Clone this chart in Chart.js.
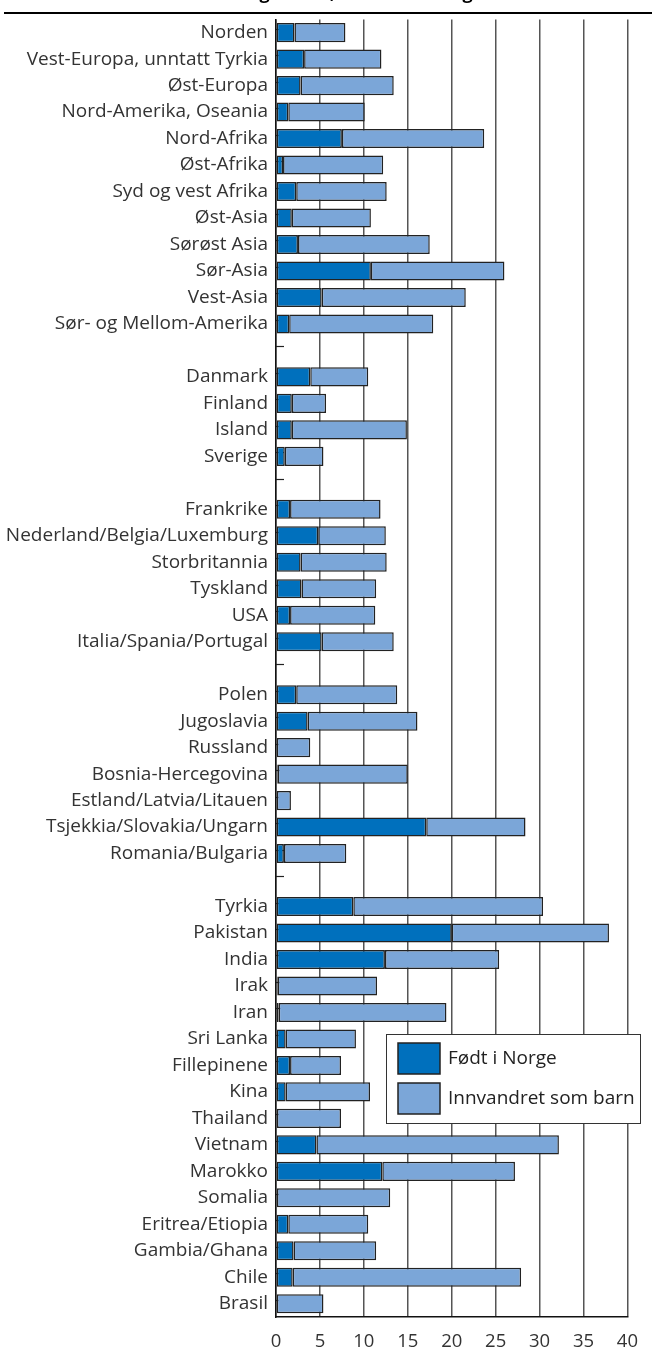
<!DOCTYPE html>
<html lang="no">
<head>
<meta charset="UTF-8">
<title>Landbakgrunn</title>
<script src="https://cdn.jsdelivr.net/npm/chart.js"></script>
<style>
  body { margin: 0; padding: 0; background: #ffffff; }
  #wrap { position: relative; width: 652px; height: 1351px; }
</style>
</head>
<body>
<div id="wrap"><canvas id="chart"></canvas></div>
<script>
// categories, "" = empty spacer row
const labels = [
  "Norden", "Vest-Europa, unntatt Tyrkia", "Øst-Europa", "Nord-Amerika, Oseania",
  "Nord-Afrika", "Øst-Afrika", "Syd og vest Afrika", "Øst-Asia", "Sørøst Asia",
  "Sør-Asia", "Vest-Asia", "Sør- og Mellom-Amerika", "",
  "Danmark", "Finland", "Island", "Sverige", "",
  "Frankrike", "Nederland/Belgia/Luxemburg", "Storbritannia", "Tyskland", "USA",
  "Italia/Spania/Portugal", "",
  "Polen", "Jugoslavia", "Russland", "Bosnia-Hercegovina", "Estland/Latvia/Litauen",
  "Tsjekkia/Slovakia/Ungarn", "Romania/Bulgaria", "",
  "Tyrkia", "Pakistan", "India", "Irak", "Iran", "Sri Lanka", "Fillepinene", "Kina",
  "Thailand", "Vietnam", "Marokko", "Somalia", "Eritrea/Etiopia", "Gambia/Ghana",
  "Chile", "Brasil"
];

const fodtINorge = [
  2.1, 3.2, 2.8, 1.4, 7.5, 0.8, 2.3, 1.8, 2.5, 10.8, 5.2, 1.5, null,
  3.9, 1.8, 1.8, 1.0, null,
  1.6, 4.8, 2.8, 2.9, 1.6, 5.2, null,
  2.3, 3.6, 0, 0.2, 0, 17.1, 0.9, null,
  8.8, 20.0, 12.4, 0.2, 0.3, 1.1, 1.6, 1.1, 0.1, 4.6, 12.1, 0.1, 1.4, 2.0, 1.9, 0
];

const innvandretSomBarn = [
  5.8, 8.8, 10.6, 8.7, 16.2, 11.4, 10.3, 9.0, 15.0, 15.2, 16.4, 16.4, null,
  6.6, 3.9, 13.1, 4.4, null,
  10.3, 7.7, 9.8, 8.5, 9.7, 8.2, null,
  11.5, 12.5, 3.9, 14.8, 1.7, 11.3, 7.1, null,
  21.6, 17.9, 13.0, 11.3, 19.1, 8.0, 5.8, 9.6, 7.3, 27.6, 15.1, 12.9, 9.1, 9.4, 26.0, 5.4
];

const xTicks = [0, 5, 10, 15, 20, 25, 30, 35, 40];

const darkBlue = "#0070bd";
const lightBlue = "#7ba6d8";
const labelFont = { family: "'Open Sans', sans-serif", size: 19 };

// title (mostly cut off at top) + rule line
const topDecor = {
  id: "topDecor",
  afterDraw(chart) {
    const ctx = chart.ctx;
    ctx.save();
    ctx.fillStyle = "#000";
    ctx.font = "bold 18px 'Open Sans', sans-serif";
    ctx.textAlign = "center";
    ctx.textBaseline = "alphabetic";
    ctx.fillText("Studenter og elever, etter landbakgrunn", 335, -1);
    ctx.fillRect(4, 12, 648, 2);
    ctx.restore();
  }
};

// small inward ticks on the y axis
const yTicks = {
  id: "yTicks",
  beforeDatasetsDraw(chart) {
    const ctx = chart.ctx;
    const y = chart.scales.y;
    const left = chart.chartArea.left;
    ctx.save();
    ctx.strokeStyle = "#222";
    ctx.lineWidth = 1.2;
    labels.forEach((l, i) => {
      const py = Math.round(y.getPixelForValue(i)) - 3.5;
      ctx.beginPath();
      ctx.moveTo(left, py);
      ctx.lineTo(left + 8, py);
      ctx.stroke();
    });
    ctx.restore();
  }
};

// boxed legend inside the plot
const boxLegend = {
  id: "boxLegend",
  afterDraw(chart) {
    const ctx = chart.ctx;
    const x0 = 386, y0 = 1034, w = 254, h = 89;
    ctx.save();
    ctx.fillStyle = "#fff";
    ctx.fillRect(x0, y0, w, h);
    ctx.strokeStyle = "#333";
    ctx.lineWidth = 1;
    ctx.strokeRect(x0 + 0.5, y0 + 0.5, w, h);
    chart.data.datasets.forEach((ds, i) => {
      const sy = y0 + 9 + i * 40;
      ctx.fillStyle = ds.backgroundColor;
      ctx.fillRect(398, sy, 42, 31);
      ctx.strokeStyle = "#222";
      ctx.lineWidth = 1.5;
      ctx.strokeRect(398, sy, 42, 31);
      ctx.fillStyle = "#222";
      ctx.font = "19px 'Open Sans', sans-serif";
      ctx.textAlign = "left";
      ctx.textBaseline = "middle";
      ctx.fillText(ds.label, 448, sy + 16);
    });
    ctx.restore();
  }
};

const ctx = document.getElementById("chart").getContext("2d");
new Chart(ctx, {
  type: "bar",
  data: {
    labels: labels,
    datasets: [
      {
        label: "Født i Norge",
        data: fodtINorge,
        backgroundColor: darkBlue,
        borderColor: "#222",
        borderWidth: 1.5,
        borderSkipped: false
      },
      {
        label: "Innvandret som barn",
        data: innvandretSomBarn,
        backgroundColor: lightBlue,
        borderColor: "#222",
        borderWidth: 1.5,
        borderSkipped: false
      }
    ]
  },
  options: {
    indexAxis: "y",
    responsive: true,
    maintainAspectRatio: false,
    animation: false,
    layout: { padding: { left: 0, right: 19, top: 18, bottom: 0 } },
    datasets: { bar: { barPercentage: 0.72, categoryPercentage: 1.0 } },
    plugins: {
      legend: { display: false },
      tooltip: { enabled: false }
    },
    scales: {
      x: {
        stacked: true,
        min: 0,
        max: 40,
        afterBuildTicks: s => { s.ticks = xTicks.map(v => ({ value: v })); },
        afterFit: s => { s.height = 34; },
        grid: { color: "#555", lineWidth: 1.5, drawTicks: false },
        border: { display: true, color: "#111", width: 1.5 },
        ticks: { color: "#333", font: { family: "'Open Sans', sans-serif", size: 18.5 }, padding: 14 }
      },
      y: {
        stacked: true,
        afterFit: s => { s.width = 276; },
        grid: { display: false, drawTicks: false },
        border: { display: true, color: "#111", width: 1.5 },
        ticks: { color: "#333", font: labelFont, padding: 8, autoSkip: false }
      }
    }
  },
  plugins: [yTicks, boxLegend, topDecor]
});
</script>
</body>
</html>
